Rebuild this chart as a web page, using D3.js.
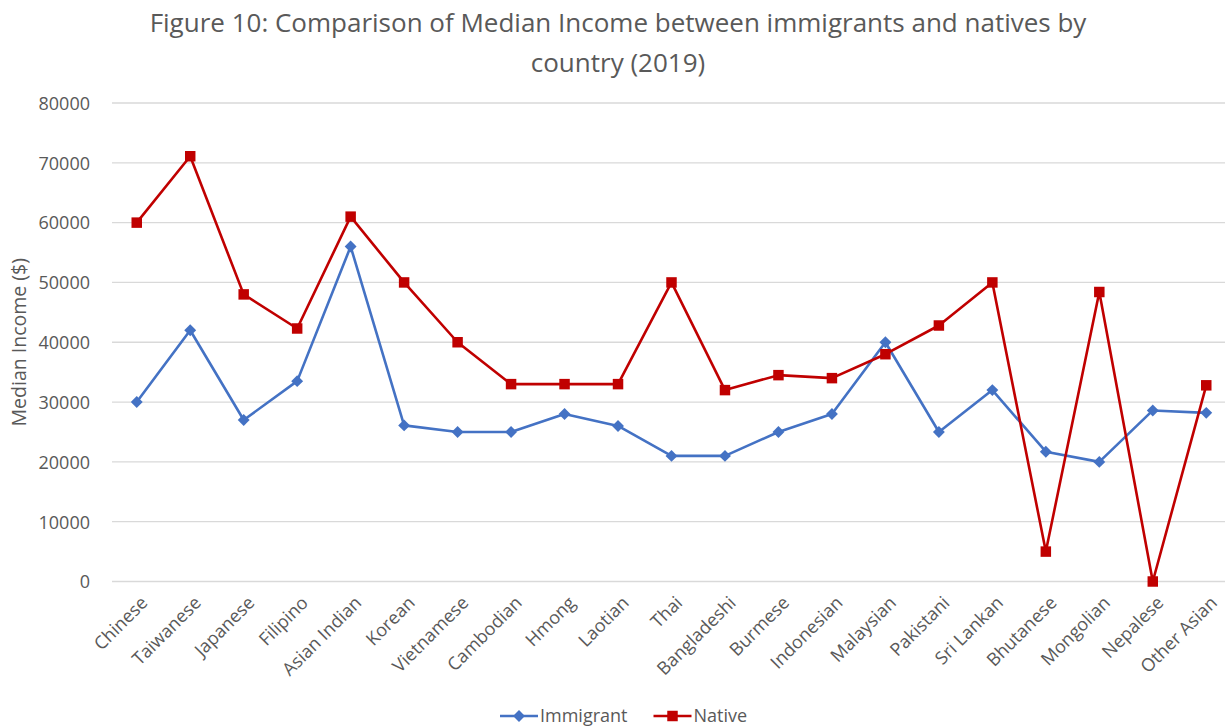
<!DOCTYPE html>
<html>
<head>
<meta charset="utf-8">
<script src="https://cdn.jsdelivr.net/npm/d3@7"></script>
<style>
  html, body { margin: 0; padding: 0; background: #fff; }
  svg { display: block; font-family: "Open Sans", "Noto Sans", sans-serif; }
</style>
</head>
<body>
<svg id="chart" width="1225" height="727"></svg>
<script>
// Median income by country of origin, 2019
const categories = ["Chinese", "Taiwanese", "Japanese", "Filipino", "Asian Indian", "Korean",
  "Vietnamese", "Cambodian", "Hmong", "Laotian", "Thai", "Bangladeshi", "Burmese",
  "Indonesian", "Malaysian", "Pakistani", "Sri Lankan", "Bhutanese", "Mongolian",
  "Nepalese", "Other Asian"];
const immigrant = [30000, 42000, 27000, 33500, 56000, 26100, 25000, 25000, 28000, 26000,
  21000, 21000, 25000, 28000, 40000, 25000, 32000, 21700, 20000, 28600, 28200];
const native = [60000, 71100, 48000, 42300, 61000, 50000, 40000, 33000, 33000, 33000,
  50000, 32000, 34500, 34000, 38000, 42800, 50000, 5000, 48400, 0, 32800];
const yTicks = [0, 10000, 20000, 30000, 40000, 50000, 60000, 70000, 80000];
const seriesNames = ["Immigrant", "Native"];

const blue = "#4472C4", red = "#C00000", textColor = "#595959";

const svg = d3.select("#chart");
const plot = { left: 110, right: 1233, top: 103, bottom: 581.5 };

const x = d3.scalePoint().domain(categories).range([plot.left, plot.right]).padding(0.5);
const y = d3.scaleLinear().domain([0, 80000]).range([plot.bottom, plot.top]);

// Title
const title = svg.append("text")
  .attr("text-anchor", "middle")
  .attr("fill", textColor)
  .style("font-size", "26px");
title.append("tspan").attr("x", 618).attr("y", 32)
  .text("Figure 10: Comparison of Median Income between immigrants and natives by");
title.append("tspan").attr("x", 618).attr("y", 72).text("country (2019)");

// Horizontal gridlines
svg.append("g").selectAll("line").data(yTicks).join("line")
  .attr("x1", plot.left + 2).attr("x2", plot.right)
  .attr("y1", d => y(d)).attr("y2", d => y(d))
  .attr("stroke", "#d9d9d9").attr("stroke-width", 1.3);

// Y axis labels
const yAxis = svg.append("g")
  .attr("transform", `translate(${plot.left - 20},0)`)
  .call(d3.axisLeft(y).tickValues(yTicks).tickFormat(d3.format("d")).tickSize(0).tickPadding(0));
yAxis.select(".domain").remove();
yAxis.selectAll("text")
  .attr("fill", textColor)
  .attr("dy", "0.35em")
  .style("font-size", "18px")
  .style("font-family", "'Open Sans', sans-serif");

// Y axis title
svg.append("text")
  .attr("transform", `translate(26,${(plot.top + plot.bottom) / 2}) rotate(-90)`)
  .attr("text-anchor", "middle")
  .attr("fill", textColor)
  .style("font-size", "19.5px")
  .text("Median Income ($)");

// X axis labels, rotated
const xAxis = svg.append("g")
  .attr("transform", `translate(0,${plot.bottom + 14})`)
  .call(d3.axisBottom(x).tickSize(0).tickPadding(0));
xAxis.select(".domain").remove();
xAxis.selectAll("text")
  .attr("fill", textColor)
  .style("font-size", "18px")
  .style("font-family", "'Open Sans', sans-serif")
  .attr("text-anchor", "end")
  .attr("dy", "0.35em")
  .attr("transform", "translate(7,4) rotate(-45)");

// Series lines and markers
const series = [
  { name: seriesNames[0], values: immigrant, color: blue, marker: "diamond" },
  { name: seriesNames[1], values: native, color: red, marker: "square" }
];

const line = d3.line().x((d, i) => x(categories[i])).y(d => y(d));

const diamond = d3.symbol().type(d3.symbolDiamond2).size(90);
const square = d3.symbol().type(d3.symbolSquare).size(110);

series.forEach(s => {
  svg.append("path")
    .datum(s.values)
    .attr("d", line)
    .attr("fill", "none")
    .attr("stroke", s.color)
    .attr("stroke-width", 2.6)
    .attr("stroke-linejoin", "round");
  svg.append("g").selectAll("path").data(s.values).join("path")
    .attr("transform", (d, i) => `translate(${x(categories[i])},${y(d)})`)
    .attr("d", s.marker === "diamond" ? diamond : square)
    .attr("fill", s.color);
});

// Legend, items laid out left to right
const legend = svg.append("g").attr("transform", "translate(0,716)");
let cursor = 500;
series.forEach(s => {
  const g = legend.append("g").attr("transform", `translate(${cursor},0)`);
  g.append("line").attr("x1", 0).attr("x2", 38).attr("y1", 0).attr("y2", 0)
    .attr("stroke", s.color).attr("stroke-width", 2.6);
  g.append("path").attr("transform", "translate(19,0)")
    .attr("d", s.marker === "diamond" ? diamond : square).attr("fill", s.color);
  const t = g.append("text").attr("x", 40).attr("y", 0).attr("dy", "0.35em")
    .attr("fill", textColor).style("font-size", "18px").text(s.name);
  cursor += 40 + t.node().getComputedTextLength() + 26;
});
</script>
</body>
</html>
